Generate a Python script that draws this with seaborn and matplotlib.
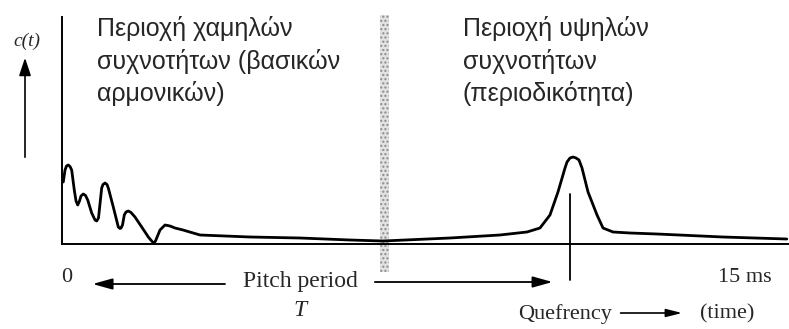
import matplotlib
matplotlib.use("Agg")
import matplotlib.pyplot as plt
from matplotlib.patches import Rectangle
import seaborn as sns
import pandas as pd

# quefrency (ms) and cepstrum amplitude
quefrency_ms = [0.028, 0.066, 0.099, 0.138, 0.175, 0.212, 0.269, 0.307, 0.344, 0.383,
                0.416, 0.466, 0.515, 0.563, 0.650, 0.723, 0.760, 0.799, 0.869, 0.898,
                0.942, 0.985, 1.014, 1.123, 1.233, 1.270, 1.292, 1.325, 1.364, 1.401,
                1.452, 1.511, 1.598, 1.745, 1.890, 1.982, 2.014, 2.047, 2.146, 2.255,
                2.365, 2.474, 2.649, 3.022, 4.117, 5.211, 6.306, 7.029, 8.496, 9.590,
                10.181, 10.466, 10.685, 10.860, 11.014, 11.058, 11.123, 11.19, 11.255, 11.32,
                11.386, 11.518, 11.715, 11.846, 12.065, 12.437, 13.03, 14.47, 15.87]
cepstrum = [0.62, 0.74, 0.78, 0.79, 0.775, 0.74, 0.54, 0.43, 0.39, 0.43,
            0.48, 0.50, 0.485, 0.44, 0.31, 0.24, 0.23, 0.26, 0.56, 0.595,
            0.61, 0.595, 0.56, 0.37, 0.17, 0.155, 0.16, 0.19, 0.29, 0.32,
            0.33, 0.315, 0.27, 0.17, 0.07, 0.02, 0.01, 0.03, 0.14, 0.19,
            0.18, 0.16, 0.14, 0.09, 0.07, 0.06, 0.04, 0.03, 0.06, 0.09,
            0.12, 0.16, 0.29, 0.52, 0.76, 0.82, 0.86, 0.87, 0.86, 0.84,
            0.76, 0.52, 0.29, 0.16, 0.12, 0.11, 0.10, 0.07, 0.05]
pitch_period_ms = 11.12
boundary_ms = [6.963, 7.160]

low_text = "Περιοχή χαμηλών\nσυχνοτήτων (βασικών\nαρμονικών)"
high_text = "Περιοχή υψηλών\nσυχνοτήτων\n(περιοδικότητα)"

sns.set_theme(style="white")
plt.rcParams["font.family"] = ["Liberation Sans", "DejaVu Sans"]

W, H = 789, 329
fig = plt.figure(figsize=(W / 100, H / 100), dpi=100)
x0, x1, yb, yt = 62, 788, 244, 17
ax = fig.add_axes([x0 / W, (H - yb) / H, (x1 - x0) / W, (yb - yt) / H])
pxms = 45.67
ax.set_xlim(0, (x1 - x0) / pxms)
ax.set_ylim(0, (yb - yt) / 100)
for s in ["top", "right"]:
    ax.spines[s].set_visible(False)
for s in ["left", "bottom"]:
    ax.spines[s].set_color("black")
    ax.spines[s].set_linewidth(1.4)
ax.set_xticks([])
ax.set_yticks([])
ax.set_xlabel("")
ax.set_ylabel("")

df = pd.DataFrame({"q": quefrency_ms, "c": cepstrum})
sns.lineplot(data=df, x="q", y="c", color="black", lw=2.0, sort=False, ax=ax,
             clip_on=False)
for ln in ax.get_lines():
    ln.set_solid_joinstyle("round")

# hatched boundary band
band = Rectangle((boundary_ms[0], -0.28), boundary_ms[1] - boundary_ms[0], 2.57,
                 facecolor="#e2e2e2", edgecolor="#8a8a8a", hatch="....", lw=0,
                 clip_on=False, zorder=0)
ax.add_patch(band)

# pitch period marker
ax.plot([pitch_period_ms, pitch_period_ms], [0.50, -0.36], color="black", lw=1.3,
        clip_on=False)

serif = ["Liberation Serif", "DejaVu Serif"]
ax.text(0.766, 2.28, low_text, fontsize=18, va="top", ha="left", linespacing=1.38,
        clip_on=False)
ax.text(8.78, 2.28, high_text, fontsize=18, va="top", ha="left", linespacing=1.38,
        clip_on=False)

ax.text(-0.766, 2.03, "c(t)", family=serif, style="italic", fontsize=14, ha="center",
        va="center", clip_on=False)
ax.annotate("", xy=(-0.81, 1.89), xytext=(-0.81, 0.84), xycoords="data",
            arrowprops=dict(arrowstyle="-|>,head_length=0.9,head_width=0.3",
                            color="black", lw=1.2), annotation_clip=False)

ax.text(0.11, -0.34, "0", family=serif, fontsize=16, ha="center", va="center",
        clip_on=False)
ax.text(14.96, -0.34, "15 ms", family=serif, fontsize=16, ha="center", va="center",
        clip_on=False)
ax.text(5.21, -0.38, "Pitch period", family=serif, fontsize=17, ha="center",
        va="center", clip_on=False)
ax.text(5.21, -0.66, "T", family=serif, style="italic", fontsize=17, ha="center",
        va="center", clip_on=False)
ax.annotate("", xy=(0.61, -0.40), xytext=(3.63, -0.40),
            arrowprops=dict(arrowstyle="-|>,head_length=1.0,head_width=0.28",
                            color="black", lw=1.3), annotation_clip=False)
ax.annotate("", xy=(10.80, -0.38), xytext=(6.79, -0.38),
            arrowprops=dict(arrowstyle="-|>,head_length=1.0,head_width=0.28",
                            color="black", lw=1.3), annotation_clip=False)

ax.text(9.98, -0.70, "Quefrency", family=serif, fontsize=16, ha="left", va="center",
        clip_on=False)
ax.annotate("", xy=(13.64, -0.69), xytext=(12.17, -0.69),
            arrowprops=dict(arrowstyle="-|>,head_length=0.8,head_width=0.2",
                            color="black", lw=1.2), annotation_clip=False)
ax.text(13.97, -0.70, "(time)", family=serif, fontsize=16, ha="left", va="center",
        clip_on=False)

fig.savefig("out.png", dpi=100, facecolor="white")
